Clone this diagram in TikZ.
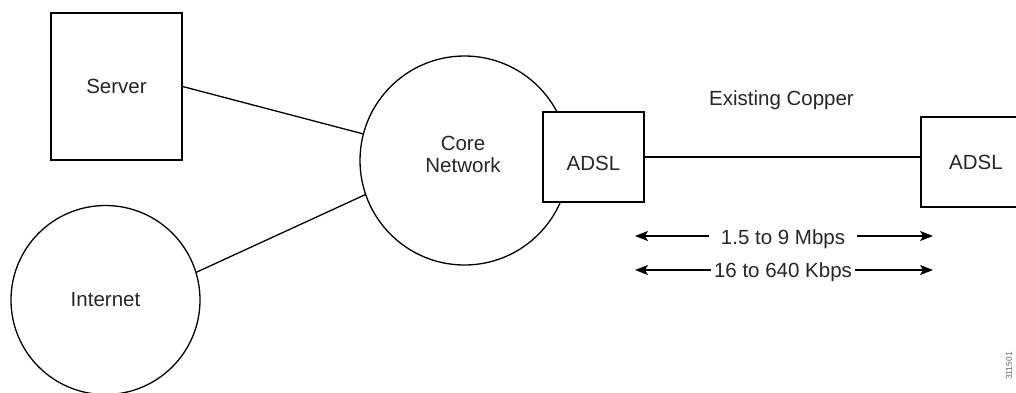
\documentclass[tikz,border=0pt]{standalone}
\usepackage{fontspec}
\setmainfont{Liberation Sans}
\usetikzlibrary{arrows.meta,calc}
\begin{document}
\begin{tikzpicture}[x=1pt,y=-1pt, line width=1.3pt,
 box/.style={draw, rectangle, fill=white, inner sep=0pt, font=\fontsize{20.5}{22}\selectfont, text=black!85},
 circ/.style={draw, circle, inner sep=0pt, font=\fontsize{20.5}{22}\selectfont, text=black!85},
 lbl/.style={font=\fontsize{20.5}{22}\selectfont, inner sep=0pt, text=black!85},
 arr/.style={-{Stealth[length=13pt,width=10pt,inset=3pt]}}]
\useasboundingbox (0,0) rectangle (1016,392);
\clip (0,0) rectangle (1016,392);
% nodes
\node[box, minimum width=131pt, minimum height=147pt] (server) at (116.5,86.5) {Server};
\node[circ, minimum size=189pt] (internet) at (105.5,300) {Internet};
\node[circ, minimum size=209pt] (core) at (464.5,160.5) {};
\node[lbl, align=center] (corelbl) at (463,154) {Core\\Network};
\node[box, minimum width=101pt, minimum height=90pt] (adsl1) at (593.5,157) {};
\node[lbl] (adsl1lbl) at (593.5,163) {ADSL};
\node[box, minimum width=110pt, minimum height=90pt] (adsl2) at (976,162) {ADSL};
\node[lbl] (copper) at (781.5,100) {Existing Copper};
% connectors
\draw (server.east) -- (core);
\draw (internet.17) -- (core.199);
\draw (adsl1.east) -- (adsl1.east -| adsl2.west);
% rate arrows
\coordinate (l1) at (635,236);
\coordinate (r1) at (933,236);
\node[lbl, anchor=base, inner xsep=11pt] (t1) at (783,244) {1.5 to 9 Mbps};
\draw[arr] (t1.west |- l1) -- (l1);
\draw[arr] (t1.east |- r1) -- (r1);
\coordinate (l2) at (635,270);
\coordinate (r2) at (933,270);
\node[lbl, anchor=base, inner xsep=2pt] (t2) at (783,277) {16 to 640 Kbps};
\draw[arr] (t2.west |- l2) -- (l2);
\draw[arr] (t2.east |- r2) -- (r2);
% figure number
\node[font=\fontsize{8.5}{9}\selectfont, rotate=90, text=black!60, inner sep=0pt] (fignum) at (1009,366) {311501};
\end{tikzpicture}
\end{document}
